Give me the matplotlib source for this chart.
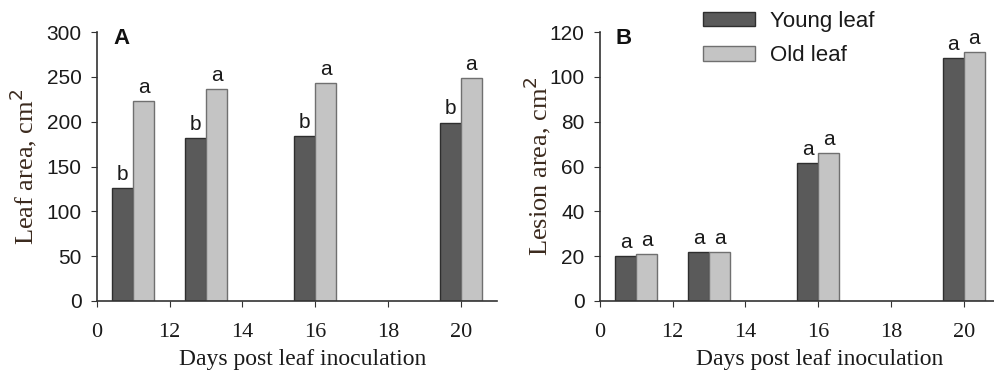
import numpy as np
import matplotlib
matplotlib.use('Agg')
import matplotlib.pyplot as plt

# data
days = [11, 13, 16, 20]
tick_pos = [10, 12, 14, 16, 18, 20]
tick_labels = ['0', '12', '14', '16', '18', '20']

leaf_young = [126, 182, 184, 199]
leaf_old = [223, 236, 243, 249]
leaf_young_letters = ['b', 'b', 'b', 'b']
leaf_old_letters = ['a', 'a', 'a', 'a']

lesion_young = [20, 22, 61.5, 108.5]
lesion_old = [21, 22, 66, 111]
lesion_young_letters = ['a', 'a', 'a', 'a']
lesion_old_letters = ['a', 'a', 'a', 'a']

dark = '#5a5a5a'
light = '#c4c4c4'
w = 0.58
sans = 'Liberation Sans'
serif = 'Liberation Serif'
label_col = '#3b2a1e'
txt_col = '#1a1a1a'

fig = plt.figure(figsize=(9.95, 3.79), dpi=100)
axA = fig.add_axes([97 / 995, 78 / 379, 400 / 995, 269 / 379])
axB = fig.add_axes([600 / 995, 78 / 379, 400 / 995, 269 / 379])


def draw(ax, young, old, yl, ol, ymax, ystep, ylabel, panel, xlab_x, ylab_x):
    x = np.array(days)
    b1 = ax.bar(x - w / 2, young, width=w, color=dark, edgecolor='#2e2e2e', linewidth=1, label='Young leaf')
    b2 = ax.bar(x + w / 2, old, width=w, color=light, edgecolor='#707070', linewidth=1, label='Old leaf')
    for xi, v, t in zip(x - w / 2, young, yl):
        ax.annotate(t, (xi, v), xytext=(0, 3), textcoords='offset points', ha='center', va='bottom',
                    fontsize=15, family=sans, color=txt_col)
    for xi, v, t in zip(x + w / 2, old, ol):
        ax.annotate(t, (xi, v), xytext=(0, 3), textcoords='offset points', ha='center', va='bottom',
                    fontsize=15, family=sans, color=txt_col)
    ax.set_xlim(10, 21)
    ax.set_ylim(0, ymax)
    ax.set_yticks(np.arange(0, ymax + 1, ystep))
    ax.set_xticks(tick_pos)
    ax.set_xticklabels(tick_labels, family=serif, fontsize=16, color=txt_col)
    for lab in ax.get_yticklabels():
        lab.set_family(sans)
        lab.set_fontsize(15)
        lab.set_color(txt_col)
    ax.spines['top'].set_visible(False)
    ax.spines['right'].set_visible(False)
    ax.spines['left'].set_color('#333333')
    ax.spines['bottom'].set_color('#333333')
    ax.spines['left'].set_linewidth(1.2)
    ax.spines['bottom'].set_linewidth(1.2)
    ax.tick_params(axis='both', direction='out', length=4, color='#333333')
    ax.tick_params(axis='y', pad=7)
    ax.tick_params(axis='x', pad=12)
    ax.set_ylabel(ylabel, family=serif, fontsize=19, color=label_col)
    ax.yaxis.set_label_coords(ylab_x, 0.5)
    ax.set_xlabel('Days post leaf inoculation', family=serif, fontsize=17, color=txt_col)
    ax.xaxis.set_label_coords(xlab_x, -0.18)
    ax.text(0.04, 1.015, panel, transform=ax.transAxes, family=sans, fontsize=16, fontweight='bold',
            va='top', ha='left', color='#111111')
    return b1, b2


draw(axA, leaf_young, leaf_old, leaf_young_letters, leaf_old_letters, 300, 50,
     'Leaf area, cm$^2$', 'A', 0.515, -0.145)
b1, b2 = draw(axB, lesion_young, lesion_old, lesion_young_letters, lesion_old_letters, 120, 20,
              'Lesion area, cm$^2$', 'B', 0.55, -0.1175)

fig.legend(handles=[b1, b2], labels=['Young leaf', 'Old leaf'], loc='upper left',
           bbox_to_anchor=(703 / 995, 1 - 11 / 379), frameon=False,
           prop={'family': sans, 'size': 16}, labelcolor=txt_col,
           handlelength=2.35, handleheight=0.6, labelspacing=0.6, handletextpad=0.68,
           borderpad=0, borderaxespad=0)

fig.savefig('out.png', dpi=100)
